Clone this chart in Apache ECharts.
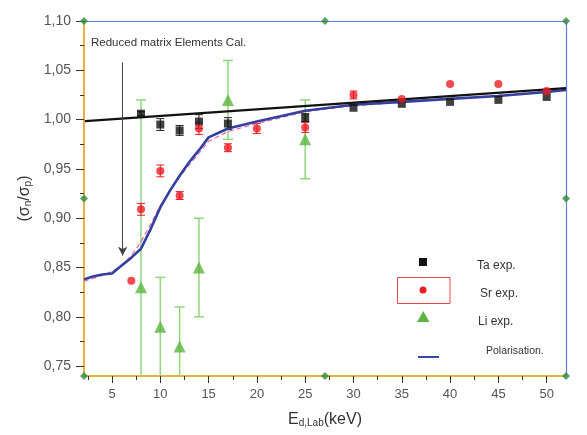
<!DOCTYPE html>
<html>
<head>
<meta charset="utf-8">
<script src="https://cdn.jsdelivr.net/npm/echarts@6/dist/echarts.min.js"></script>
<style>
  html, body { margin: 0; padding: 0; background: #fff; }
  #main { width: 587px; height: 435px; }
</style>
</head>
<body>
<div id="main"></div>
<script>
// data
var xTicks = [5, 10, 15, 20, 25, 30, 35, 40, 45, 50];
var xMinor = [2.5, 7.5, 12.5, 17.5, 22.5, 27.5, 32.5, 37.5, 42.5, 47.5];
var yTicks = [0.75, 0.80, 0.85, 0.90, 0.95, 1.00, 1.05, 1.10];
var yMinor = [0.775, 0.825, 0.875, 0.925, 0.975, 1.025, 1.075];

var taX = [8, 10, 12, 14, 17, 25, 30, 35, 40, 45, 50];
var taY = [1.006, 0.995, 0.989, 0.998, 0.996, 1.002, 1.012, 1.016, 1.018, 1.020, 1.023];
var taErr = [0.002, 0.006, 0.005, 0.007, 0.006, 0.004, 0, 0, 0, 0, 0];

var srX = [7, 8, 10, 12, 14, 17, 20, 25, 30, 35, 40, 45, 50];
var srY = [0.8365, 0.909, 0.948, 0.923, 0.991, 0.9715, 0.991, 0.992, 1.025, 1.021, 1.036, 1.036, 1.029];
var srErr = [0, 0.006, 0.006, 0.004, 0.006, 0.004, 0.005, 0.005, 0.004, 0, 0, 0, 0];

var liX = [8, 10, 12, 14, 17, 25];
var liY = [0.83, 0.79, 0.77, 0.85, 1.02, 0.98];
var liErr = [0.19, 0.05, 0.04, 0.05, 0.04, 0.04];

var calcX = [2.2, 52];
var calcY = [0.9985, 1.032];

var polX = [2.1, 3, 4, 5, 6, 7, 8, 9, 10, 11, 12, 13, 14, 15, 17, 20, 25, 30, 35, 40, 45, 50, 52];
var polY = [0.838, 0.841, 0.843, 0.844, 0.852, 0.860, 0.869, 0.889, 0.911, 0.928, 0.943, 0.957, 0.969, 0.982, 0.991, 0.998, 1.009, 1.015, 1.018, 1.021, 1.024, 1.028, 1.030];

var pinkX = [2.1, 4, 5, 6, 7, 8, 9, 10, 12, 14, 15, 17, 20, 25, 30, 40, 52];
var pinkY = [0.836, 0.842, 0.846, 0.852, 0.862, 0.876, 0.894, 0.913, 0.942, 0.966, 0.978, 0.988, 0.996, 1.008, 1.014, 1.021, 1.030];

var arrowX = 6.1, arrowTop = 1.058, arrowTip = 0.862;
var handles = [[2.1, 1.10], [27.05, 1.10], [52, 1.10], [2.1, 0.92], [52, 0.92], [2.1, 0.74], [27.05, 0.74], [52, 0.74]];

var X_MIN = 2.1, X_MAX = 52, Y_MIN = 0.74, Y_MAX = 1.10;
var FONT = 'Liberation Sans, Arial, sans-serif';

function pairs(xs, ys) {
    return xs.map(function (x, i) { return [x, ys[i]]; });
}
function bars(xs, ys, es) {
    var out = [];
    xs.forEach(function (x, i) {
        if (es[i] > 0) out.push([x, ys[i] - es[i], ys[i] + es[i]]);
    });
    return out;
}
// vertical error bar with caps, clipped to the axis range
function errRender(capW, color, lw) {
    return function (params, api) {
        var x = api.value(0), lo = api.value(1), hi = api.value(2);
        var loC = Math.max(lo, Y_MIN), hiC = Math.min(hi, Y_MAX);
        var p1 = api.coord([x, hiC]), p2 = api.coord([x, loC]);
        var st = { stroke: color, lineWidth: lw };
        var ch = [{ type: 'line', shape: { x1: p1[0], y1: p1[1], x2: p2[0], y2: p2[1] }, style: st }];
        if (hi <= Y_MAX) ch.push({ type: 'line', shape: { x1: p1[0] - capW / 2, y1: p1[1], x2: p1[0] + capW / 2, y2: p1[1] }, style: st });
        if (lo > Y_MIN) ch.push({ type: 'line', shape: { x1: p2[0] - capW / 2, y1: p2[1], x2: p2[0] + capW / 2, y2: p2[1] }, style: st });
        return { type: 'group', children: ch };
    };
}

var myChart = echarts.init(document.getElementById('main'));

var tickStyle = { color: '#333', width: 1 };
var option = {
    backgroundColor: '#fff',
    animation: false,
    grid: { left: 84, right: 21, top: 21, bottom: 59 },
    xAxis: [
        {
            type: 'value', min: X_MIN, max: X_MAX, position: 'bottom',
            name: 'E{sub|d,Lab}(keV)', nameLocation: 'middle', nameGap: 33,
            nameTextStyle: {
                fontFamily: FONT, fontSize: 16, color: '#333', lineHeight: 16,
                rich: { sub: { fontFamily: FONT, fontSize: 10, color: '#333', lineHeight: 10, padding: [12, 0, 0, 0], verticalAlign: 'bottom' } }
            },
            axisLine: { show: true, lineStyle: { color: '#e8b23a', width: 2 } },
            axisTick: { show: true, length: 7, customValues: xTicks, lineStyle: tickStyle },
            axisLabel: { customValues: xTicks, margin: 12, fontFamily: FONT, fontSize: 13, color: '#555' },
            splitLine: { show: false }
        },
        {
            type: 'value', min: X_MIN, max: X_MAX, position: 'bottom',
            axisLine: { show: false },
            axisTick: { show: true, length: 4, customValues: xMinor, lineStyle: tickStyle },
            axisLabel: { show: false },
            splitLine: { show: false }
        },
        {
            type: 'value', min: X_MIN, max: X_MAX, position: 'top',
            axisLine: { show: true, lineStyle: { color: '#5b7fdc', width: 1.2 } },
            axisTick: { show: false }, axisLabel: { show: false }, splitLine: { show: false }
        }
    ],
    yAxis: [
        {
            type: 'value', min: Y_MIN, max: Y_MAX, position: 'left',
            name: '(σ{sub|n}/σ{sub|p})', nameLocation: 'middle', nameGap: 45,
            nameTextStyle: {
                fontFamily: FONT, fontSize: 16, color: '#333', lineHeight: 16,
                rich: { sub: { fontFamily: FONT, fontSize: 10, color: '#333', lineHeight: 10, padding: [10, 0, 0, 0], verticalAlign: 'bottom' } }
            },
            axisLine: { show: true, lineStyle: { color: '#e8b23a', width: 2 } },
            axisTick: { show: true, length: 8, customValues: yTicks, lineStyle: tickStyle },
            axisLabel: {
                customValues: yTicks, margin: 13, fontFamily: FONT, fontSize: 14, color: '#555',
                formatter: function (v) { return v.toFixed(2).replace('.', ','); }
            },
            splitLine: { show: false }
        },
        {
            type: 'value', min: Y_MIN, max: Y_MAX, position: 'left',
            axisLine: { show: false },
            axisTick: { show: true, length: 4, customValues: yMinor, lineStyle: tickStyle },
            axisLabel: { show: false },
            splitLine: { show: false }
        },
        {
            type: 'value', min: Y_MIN, max: Y_MAX, position: 'right',
            axisLine: { show: true, lineStyle: { color: '#5b7fdc', width: 1.2 } },
            axisTick: { show: false }, axisLabel: { show: false }, splitLine: { show: false }
        }
    ],
    graphic: [
        { type: 'text', left: 91, top: 37, style: { text: 'Reduced matrix Elements Cal.', fontFamily: FONT, fontSize: 11.5, fill: '#333' } },
        // legend
        { type: 'rect', shape: { x: 419, y: 258, width: 8, height: 8 }, style: { fill: '#111' } },
        { type: 'text', x: 477, y: 266, style: { text: 'Ta exp.', fontFamily: FONT, fontSize: 12, fill: '#333', verticalAlign: 'middle' } },
        { type: 'rect', shape: { x: 397.5, y: 277.5, width: 52.5, height: 26 }, style: { fill: 'none', stroke: '#e8484a', lineWidth: 1 } },
        { type: 'circle', shape: { cx: 423, cy: 290, r: 3.5 }, style: { fill: '#ee1c24' } },
        { type: 'text', x: 480, y: 294, style: { text: 'Sr exp.', fontFamily: FONT, fontSize: 12, fill: '#333', verticalAlign: 'middle' } },
        { type: 'polygon', shape: { points: [[423.3, 311], [429.5, 322], [417, 322]] }, style: { fill: '#5bb540' } },
        { type: 'text', x: 478, y: 322, style: { text: 'Li exp.', fontFamily: FONT, fontSize: 12, fill: '#333', verticalAlign: 'middle' } },
        { type: 'line', shape: { x1: 418, y1: 357, x2: 439, y2: 357 }, style: { stroke: '#3a46a8', lineWidth: 2 } },
        { type: 'text', x: 486, y: 351, style: { text: 'Polarisation.', fontFamily: FONT, fontSize: 10.5, fill: '#333', verticalAlign: 'middle' } }
    ],
    series: [
        {
            name: 'Li err', type: 'custom', renderItem: errRender(10, '#8fd67c', 1.5),
            data: bars(liX, liY, liErr), z: 2, silent: true
        },
        {
            name: 'Ta err', type: 'custom', renderItem: errRender(8, '#222', 1),
            data: bars(taX, taY, taErr), z: 2, silent: true
        },
        {
            name: 'Sr err', type: 'custom', renderItem: errRender(8, '#ee1c24', 1),
            data: bars(srX, srY, srErr), z: 2, silent: true
        },
        {
            name: 'pink', type: 'line', data: pairs(pinkX, pinkY), showSymbol: false,
            lineStyle: { color: '#e86aa8', width: 1.2, type: [5, 3] }, z: 3
        },
        {
            name: 'Polarisation.', type: 'line', data: pairs(polX, polY), showSymbol: false,
            lineStyle: { color: '#3340a0', width: 2.6 }, z: 4
        },
        {
            name: 'Reduced matrix Elements Cal.', type: 'line', data: pairs(calcX, calcY), showSymbol: false,
            lineStyle: { color: '#111', width: 2.2 }, z: 4,
            markLine: {
                silent: true, symbol: ['none', 'arrow'], symbolSize: [7, 9],
                label: { show: false },
                lineStyle: { color: '#444', width: 1, type: 'solid' },
                data: [[{ coord: [arrowX, arrowTop] }, { coord: [arrowX, arrowTip] }]]
            }
        },
        {
            name: 'Ta exp.', type: 'scatter', data: pairs(taX, taY), symbol: 'rect', symbolSize: 8,
            itemStyle: { color: '#111' }, z: 5
        },
        {
            name: 'Sr exp.', type: 'scatter', data: pairs(srX, srY), symbol: 'circle', symbolSize: 8,
            itemStyle: { color: '#ee1c24' }, z: 5
        },
        {
            name: 'Li exp.', type: 'scatter', data: pairs(liX, liY), symbol: 'triangle', symbolSize: 12,
            itemStyle: { color: '#5bb540' }, z: 5
        },
        {
            name: 'handles', type: 'scatter', data: handles, symbol: 'diamond', symbolSize: 8,
            itemStyle: { color: '#2e8b3e' }, clip: false, z: 10, silent: true
        }
    ]
};
myChart.setOption(option);
</script>
</body>
</html>
